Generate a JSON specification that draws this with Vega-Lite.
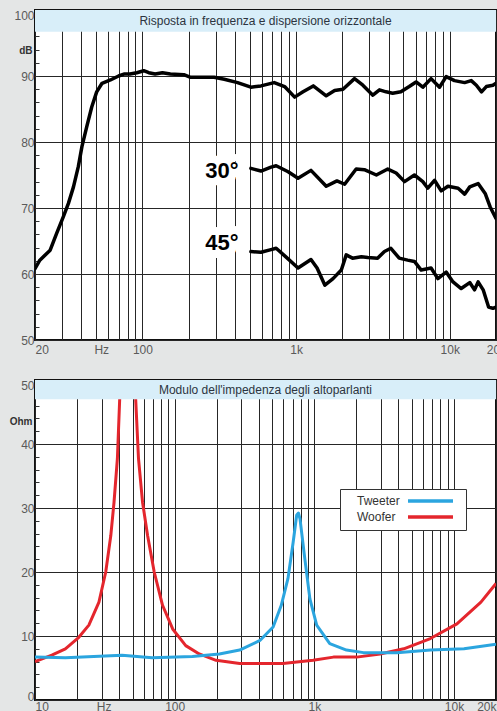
{
  "$schema": "https://vega.github.io/schema/vega-lite/v6.json",
  "background": "#e4e6e6",
  "padding": {"left": 8, "top": 8, "right": 0, "bottom": 0},
  "config": {
    "font": "Liberation Sans",
    "view": {"fill": "white", "stroke": "#111", "strokeWidth": 2},
    "axis": {"domain": false, "labelFont": "Liberation Sans", "labelFontSize": 12, "labelColor": "#5a5a5a", "gridColor": "#262626", "gridWidth": 1, "labelOverlap": false}
  },
  "datasets": {
    "resp": [
      {"f": 20, "db": 60.8, "curve": "0"}, {"f": 21.5, "db": 62.1, "curve": "0"}, {"f": 25.1, "db": 63.6, "curve": "0"}, {"f": 27.7, "db": 66.2, "curve": "0"}, {"f": 30.6, "db": 68.7, "curve": "0"}, {"f": 33.0, "db": 70.7, "curve": "0"}, {"f": 35.6, "db": 73.2, "curve": "0"}, {"f": 38.3, "db": 76.3, "curve": "0"}, {"f": 40.4, "db": 79.3, "curve": "0"}, {"f": 43.4, "db": 82.3, "curve": "0"}, {"f": 46.8, "db": 85.3, "curve": "0"}, {"f": 50.4, "db": 87.6, "curve": "0"}, {"f": 54.6, "db": 88.9, "curve": "0"}, {"f": 61.9, "db": 89.4, "curve": "0"}, {"f": 70, "db": 90.0, "curve": "0"}, {"f": 75.8, "db": 90.3, "curve": "0"}, {"f": 83, "db": 90.3, "curve": "0"}, {"f": 92, "db": 90.5, "curve": "0"}, {"f": 102, "db": 90.8, "curve": "0"}, {"f": 110, "db": 90.5, "curve": "0"}, {"f": 121, "db": 90.3, "curve": "0"}, {"f": 135, "db": 90.5, "curve": "0"}, {"f": 152, "db": 90.3, "curve": "0"}, {"f": 186, "db": 90.2, "curve": "0"}, {"f": 206, "db": 89.8, "curve": "0"}, {"f": 252, "db": 89.8, "curve": "0"}, {"f": 293, "db": 89.8, "curve": "0"}, {"f": 341, "db": 89.5, "curve": "0"}, {"f": 416, "db": 89.0, "curve": "0"}, {"f": 508, "db": 88.3, "curve": "0"}, {"f": 591, "db": 88.5, "curve": "0"}, {"f": 721, "db": 89.0, "curve": "0"}, {"f": 842, "db": 88.4, "curve": "0"}, {"f": 979, "db": 86.8, "curve": "0"}, {"f": 1110, "db": 87.6, "curve": "0"}, {"f": 1294, "db": 88.5, "curve": "0"}, {"f": 1571, "db": 87.0, "curve": "0"}, {"f": 1782, "db": 87.8, "curve": "0"}, {"f": 2020, "db": 88.0, "curve": "0"}, {"f": 2400, "db": 89.6, "curve": "0"}, {"f": 2720, "db": 88.6, "curve": "0"}, {"f": 3160, "db": 87.1, "curve": "0"}, {"f": 3490, "db": 87.9, "curve": "0"}, {"f": 3850, "db": 87.6, "curve": "0"}, {"f": 4250, "db": 87.4, "curve": "0"}, {"f": 4810, "db": 87.6, "curve": "0"}, {"f": 5450, "db": 88.4, "curve": "0"}, {"f": 6040, "db": 89.1, "curve": "0"}, {"f": 6680, "db": 88.3, "curve": "0"}, {"f": 7560, "db": 89.6, "curve": "0"}, {"f": 8580, "db": 88.3, "curve": "0"}, {"f": 9480, "db": 89.9, "curve": "0"}, {"f": 10740, "db": 89.3, "curve": "0"}, {"f": 12500, "db": 89.0, "curve": "0"}, {"f": 13800, "db": 89.3, "curve": "0"}, {"f": 14900, "db": 88.6, "curve": "0"}, {"f": 16100, "db": 87.6, "curve": "0"}, {"f": 17300, "db": 88.4, "curve": "0"}, {"f": 19100, "db": 88.6, "curve": "0"}, {"f": 20000, "db": 88.9, "curve": "0"},
      {"f": 508, "db": 76.0, "curve": "30"}, {"f": 591, "db": 75.6, "curve": "30"}, {"f": 687, "db": 76.2, "curve": "30"}, {"f": 742, "db": 76.4, "curve": "30"}, {"f": 888, "db": 75.5, "curve": "30"}, {"f": 1030, "db": 74.5, "curve": "30"}, {"f": 1250, "db": 75.7, "curve": "30"}, {"f": 1571, "db": 73.3, "curve": "30"}, {"f": 1845, "db": 74.1, "curve": "30"}, {"f": 2070, "db": 73.6, "curve": "30"}, {"f": 2460, "db": 75.9, "curve": "30"}, {"f": 2780, "db": 75.8, "curve": "30"}, {"f": 3330, "db": 75.0, "curve": "30"}, {"f": 3950, "db": 75.9, "curve": "30"}, {"f": 4480, "db": 75.3, "curve": "30"}, {"f": 5080, "db": 74.0, "curve": "30"}, {"f": 5890, "db": 75.0, "curve": "30"}, {"f": 6680, "db": 74.0, "curve": "30"}, {"f": 7200, "db": 73.0, "curve": "30"}, {"f": 7960, "db": 74.2, "curve": "30"}, {"f": 8800, "db": 72.6, "curve": "30"}, {"f": 9730, "db": 73.3, "curve": "30"}, {"f": 11340, "db": 73.0, "curve": "30"}, {"f": 12500, "db": 72.1, "curve": "30"}, {"f": 13500, "db": 73.2, "curve": "30"}, {"f": 15300, "db": 73.7, "curve": "30"}, {"f": 17000, "db": 72.2, "curve": "30"}, {"f": 18300, "db": 70.2, "curve": "30"}, {"f": 20000, "db": 68.4, "curve": "30"},
      {"f": 508, "db": 63.4, "curve": "45"}, {"f": 591, "db": 63.3, "curve": "45"}, {"f": 687, "db": 63.7, "curve": "45"}, {"f": 742, "db": 63.9, "curve": "45"}, {"f": 858, "db": 62.6, "curve": "45"}, {"f": 1030, "db": 60.9, "curve": "45"}, {"f": 1250, "db": 62.2, "curve": "45"}, {"f": 1370, "db": 60.9, "curve": "45"}, {"f": 1540, "db": 58.3, "curve": "45"}, {"f": 1740, "db": 59.3, "curve": "45"}, {"f": 1970, "db": 60.6, "curve": "45"}, {"f": 2120, "db": 62.9, "curve": "45"}, {"f": 2330, "db": 62.4, "curve": "45"}, {"f": 2660, "db": 62.6, "curve": "45"}, {"f": 2930, "db": 62.5, "curve": "45"}, {"f": 3390, "db": 62.4, "curve": "45"}, {"f": 3760, "db": 63.4, "curve": "45"}, {"f": 4140, "db": 63.9, "curve": "45"}, {"f": 4690, "db": 62.4, "curve": "45"}, {"f": 5320, "db": 62.1, "curve": "45"}, {"f": 5890, "db": 61.9, "curve": "45"}, {"f": 6520, "db": 60.6, "curve": "45"}, {"f": 7560, "db": 60.9, "curve": "45"}, {"f": 8370, "db": 59.3, "curve": "45"}, {"f": 9480, "db": 60.3, "curve": "45"}, {"f": 10500, "db": 58.8, "curve": "45"}, {"f": 11870, "db": 57.8, "curve": "45"}, {"f": 13500, "db": 58.7, "curve": "45"}, {"f": 14500, "db": 57.6, "curve": "45"}, {"f": 15300, "db": 58.8, "curve": "45"}, {"f": 16500, "db": 57.6, "curve": "45"}, {"f": 17900, "db": 55.0, "curve": "45"}, {"f": 19100, "db": 54.8, "curve": "45"}, {"f": 20000, "db": 55.0, "curve": "45"}
    ],
    "imp": [
      {"f": 10, "ohm": 6.0, "driver": "Woofer"}, {"f": 13.2, "ohm": 7.0, "driver": "Woofer"}, {"f": 16.5, "ohm": 8.0, "driver": "Woofer"}, {"f": 20.6, "ohm": 9.8, "driver": "Woofer"}, {"f": 24.3, "ohm": 11.7, "driver": "Woofer"}, {"f": 28.7, "ohm": 15.3, "driver": "Woofer"}, {"f": 32.1, "ohm": 20, "driver": "Woofer"}, {"f": 34.9, "ohm": 25.7, "driver": "Woofer"}, {"f": 36.8, "ohm": 30.9, "driver": "Woofer"}, {"f": 38.9, "ohm": 37.7, "driver": "Woofer"}, {"f": 40.4, "ohm": 47, "driver": "Woofer"}, {"f": 42.5, "ohm": 60, "driver": "Woofer"}, {"f": 46, "ohm": 75, "driver": "Woofer"}, {"f": 49.5, "ohm": 60, "driver": "Woofer"}, {"f": 52.6, "ohm": 47, "driver": "Woofer"}, {"f": 55.1, "ohm": 37.7, "driver": "Woofer"}, {"f": 58.9, "ohm": 30.9, "driver": "Woofer"}, {"f": 64, "ohm": 25.7, "driver": "Woofer"}, {"f": 71.4, "ohm": 20, "driver": "Woofer"}, {"f": 81.9, "ohm": 14.8, "driver": "Woofer"}, {"f": 96.8, "ohm": 11.1, "driver": "Woofer"}, {"f": 120, "ohm": 8.5, "driver": "Woofer"}, {"f": 150, "ohm": 7.2, "driver": "Woofer"}, {"f": 198, "ohm": 6.2, "driver": "Woofer"}, {"f": 292, "ohm": 5.7, "driver": "Woofer"}, {"f": 507, "ohm": 5.7, "driver": "Woofer"}, {"f": 596, "ohm": 5.7, "driver": "Woofer"}, {"f": 980, "ohm": 6.2, "driver": "Woofer"}, {"f": 1370, "ohm": 6.7, "driver": "Woofer"}, {"f": 2010, "ohm": 6.7, "driver": "Woofer"}, {"f": 2960, "ohm": 7.2, "driver": "Woofer"}, {"f": 4370, "ohm": 8.0, "driver": "Woofer"}, {"f": 6780, "ohm": 9.6, "driver": "Woofer"}, {"f": 10500, "ohm": 11.9, "driver": "Woofer"}, {"f": 15600, "ohm": 15.3, "driver": "Woofer"}, {"f": 20000, "ohm": 18.2, "driver": "Woofer"},
      {"f": 10, "ohm": 6.7, "driver": "Tweeter"}, {"f": 16.5, "ohm": 6.6, "driver": "Tweeter"}, {"f": 42, "ohm": 7.0, "driver": "Tweeter"}, {"f": 69, "ohm": 6.6, "driver": "Tweeter"}, {"f": 134, "ohm": 6.8, "driver": "Tweeter"}, {"f": 209, "ohm": 7.2, "driver": "Tweeter"}, {"f": 292, "ohm": 7.8, "driver": "Tweeter"}, {"f": 408, "ohm": 9.3, "driver": "Tweeter"}, {"f": 507, "ohm": 11.4, "driver": "Tweeter"}, {"f": 580, "ohm": 14.8, "driver": "Tweeter"}, {"f": 648, "ohm": 19.0, "driver": "Tweeter"}, {"f": 706, "ohm": 24.7, "driver": "Tweeter"}, {"f": 748, "ohm": 28.9, "driver": "Tweeter"}, {"f": 770, "ohm": 29.2, "driver": "Tweeter"}, {"f": 790, "ohm": 28.3, "driver": "Tweeter"}, {"f": 855, "ohm": 22.1, "driver": "Tweeter"}, {"f": 930, "ohm": 15.8, "driver": "Tweeter"}, {"f": 1040, "ohm": 11.7, "driver": "Tweeter"}, {"f": 1290, "ohm": 8.8, "driver": "Tweeter"}, {"f": 1700, "ohm": 7.8, "driver": "Tweeter"}, {"f": 2250, "ohm": 7.4, "driver": "Tweeter"}, {"f": 3900, "ohm": 7.4, "driver": "Tweeter"}, {"f": 6800, "ohm": 7.8, "driver": "Tweeter"}, {"f": 11800, "ohm": 8.0, "driver": "Tweeter"}, {"f": 20000, "ohm": 8.7, "driver": "Tweeter"}
    ]
  },
  "vconcat": [
    {
      "width": 461,
      "height": 330,
      "layer": [
        {
          "data": {"name": "resp"},
          "mark": {"type": "line", "color": "black", "strokeWidth": 3.5, "strokeJoin": "round", "strokeCap": "round", "clip": true},
          "encoding": {
            "x": {"field": "f", "type": "quantitative", "scale": {"type": "log", "domain": [20, 20000], "nice": false},
              "axis": {"title": null, "ticks": false, "labelPadding": 4, "labelOverlap": false, "tickCount": 100,
                "values": [20, 30, 40, 50, 54, 60, 70, 80, 90, 100, 200, 300, 400, 500, 600, 700, 800, 900, 1000, 2000, 3000, 4000, 5000, 6000, 7000, 8000, 9000, 10000, 20000],
                "labelExpr": "datum.value == 20 ? '20' : datum.value == 54 ? 'Hz' : datum.value == 100 ? '100' : datum.value == 1000 ? '1k' : datum.value == 10000 ? '10k' : datum.value == 20000 ? '20k' : ''",
                "labelAlign": {"condition": {"test": "datum.value == 20", "value": "left"}, "value": "center"},
                "gridOpacity": {"condition": {"test": "datum.value == 54", "value": 0}, "value": 1}}},
            "y": {"field": "db", "type": "quantitative", "scale": {"domain": [50, 100], "nice": false, "zero": false},
              "axis": {"title": "dB", "titleAngle": 0, "titleX": -3, "titleY": 40, "titleAlign": "right", "titleBaseline": "middle", "titleFont": "Liberation Sans", "titleFontSize": 10, "titleFontWeight": "bold", "titleColor": "#333", "labelOverlap": false, "tickCount": 100, "format": "d",
                "values": [50, 52, 54, 56, 58, 60, 62, 64, 66, 68, 70, 72, 74, 76, 78, 80, 82, 84, 86, 88, 90, 92, 94, 96, 98, 100],
                "labelExpr": "datum.value % 10 == 0 ? datum.label : ''",
                "tickSize": -4, "tickColor": "#333", "labelPadding": 5,
                "labelBaseline": {"condition": {"test": "datum.value == 100", "value": "top"}, "value": "middle"},
                "gridOpacity": {"condition": {"test": "datum.value % 10 == 0", "value": 1}, "value": 0}}},
            "detail": {"field": "curve", "type": "nominal"}
          }
        },
        {
          "data": {"values": [{}]},
          "mark": {"type": "text", "fontSize": 22, "fontWeight": "bold", "stroke": "white", "strokeWidth": 16, "strokeJoin": "round", "fill": "white"},
          "encoding": {"x": {"datum": 329, "type": "quantitative"}, "y": {"datum": 75.6, "type": "quantitative"}, "text": {"value": "30°"}}
        },
        {
          "data": {"values": [{}]},
          "mark": {"type": "text", "fontSize": 22, "fontWeight": "bold", "stroke": "white", "strokeWidth": 16, "strokeJoin": "round", "fill": "white"},
          "encoding": {"x": {"datum": 329, "type": "quantitative"}, "y": {"datum": 64.7, "type": "quantitative"}, "text": {"value": "45°"}}
        },
        {
          "data": {"values": [{}]},
          "mark": {"type": "text", "fontSize": 22, "fontWeight": "bold", "color": "black"},
          "encoding": {"x": {"datum": 329, "type": "quantitative"}, "y": {"datum": 75.6, "type": "quantitative"}, "text": {"value": "30°"}}
        },
        {
          "data": {"values": [{}]},
          "mark": {"type": "text", "fontSize": 22, "fontWeight": "bold", "color": "black"},
          "encoding": {"x": {"datum": 329, "type": "quantitative"}, "y": {"datum": 64.7, "type": "quantitative"}, "text": {"value": "45°"}}
        },
        {
          "data": {"values": [{}]},
          "mark": {"type": "rect", "fill": "#d8eef9"},
          "encoding": {"x": {"datum": 20, "type": "quantitative"}, "x2": {"datum": 20000}, "y": {"datum": 100, "type": "quantitative"}, "y2": {"datum": 96.7}}
        },
        {
          "data": {"values": [{}]},
          "mark": {"type": "text", "fontSize": 12, "color": "#2c3440"},
          "encoding": {"x": {"datum": 632.5, "type": "quantitative"}, "y": {"datum": 98.35, "type": "quantitative"}, "text": {"value": "Risposta in frequenza e dispersione orizzontale"}}
        }
      ]
    },
    {
      "width": 461,
      "height": 320,
      "layer": [
        {
          "data": {"name": "imp"},
          "mark": {"type": "line", "strokeWidth": 3, "strokeJoin": "round", "clip": true},
          "encoding": {
            "x": {"field": "f", "type": "quantitative", "scale": {"type": "log", "domain": [10, 20000], "nice": false},
              "axis": {"title": null, "ticks": false, "labelPadding": 1, "labelOverlap": false, "tickCount": 100,
                "values": [10, 20, 30, 31, 40, 50, 60, 70, 80, 90, 100, 200, 300, 400, 500, 600, 700, 800, 900, 1000, 2000, 3000, 4000, 5000, 6000, 7000, 8000, 9000, 10000, 20000],
                "labelExpr": "datum.value == 10 ? '10' : datum.value == 31 ? 'Hz' : datum.value == 100 ? '100' : datum.value == 1000 ? '1k' : datum.value == 10000 ? '10k' : datum.value == 20000 ? '20k' : ''",
                "gridOpacity": {"condition": {"test": "datum.value == 31", "value": 0}, "value": 1}}},
            "y": {"field": "ohm", "type": "quantitative", "scale": {"domain": [0, 50], "nice": false},
              "axis": {"title": "Ohm", "titleAngle": 0, "titleX": -3, "titleY": 41, "titleAlign": "right", "titleBaseline": "middle", "titleFont": "Liberation Sans", "titleFontSize": 10, "titleFontWeight": "bold", "titleColor": "#333", "labelOverlap": false, "tickCount": 100, "format": "d",
                "values": [0, 2, 4, 6, 8, 10, 12, 14, 16, 18, 20, 22, 24, 26, 28, 30, 32, 34, 36, 38, 40, 42, 44, 46, 48, 50],
                "labelExpr": "datum.value % 10 == 0 ? datum.label : ''",
                "tickSize": -4, "tickColor": "#333", "labelPadding": 5,
                "labelBaseline": {"condition": [{"test": "datum.value == 50", "value": "top"}, {"test": "datum.value == 0", "value": "alphabetic"}], "value": "middle"},
                "gridOpacity": {"condition": {"test": "datum.value % 10 == 0", "value": 1}, "value": 0}}},
            "color": {"field": "driver", "type": "nominal", "scale": {"domain": ["Tweeter", "Woofer"], "range": ["#2ba5df", "#e4262d"]},
              "legend": {"orient": "none", "legendX": 305, "legendY": 479, "title": null, "symbolType": "M-7.5,0H7.5", "symbolSize": 36, "symbolStrokeWidth": 3.5, "labelOffset": -79.5, "symbolOffset": 78.5, "labelFont": "Liberation Sans", "labelFontSize": 12, "labelColor": "#333", "padding": 6, "strokeColor": "#333", "fillColor": "white", "rowPadding": 2}}
          }
        },
        {
          "data": {"values": [{}]},
          "mark": {"type": "rect", "fill": "#d8eef9"},
          "encoding": {"x": {"datum": 10, "type": "quantitative"}, "x2": {"datum": 20000}, "y": {"datum": 50, "type": "quantitative"}, "y2": {"datum": 47.0}}
        },
        {
          "data": {"values": [{}]},
          "mark": {"type": "text", "fontSize": 12, "color": "#2c3440"},
          "encoding": {"x": {"datum": 447, "type": "quantitative"}, "y": {"datum": 48.5, "type": "quantitative"}, "text": {"value": "Modulo  dell'impedenza degli altoparlanti"}}
        }
      ]
    }
  ],
  "spacing": 40,
  "bounds": "flush"
}
